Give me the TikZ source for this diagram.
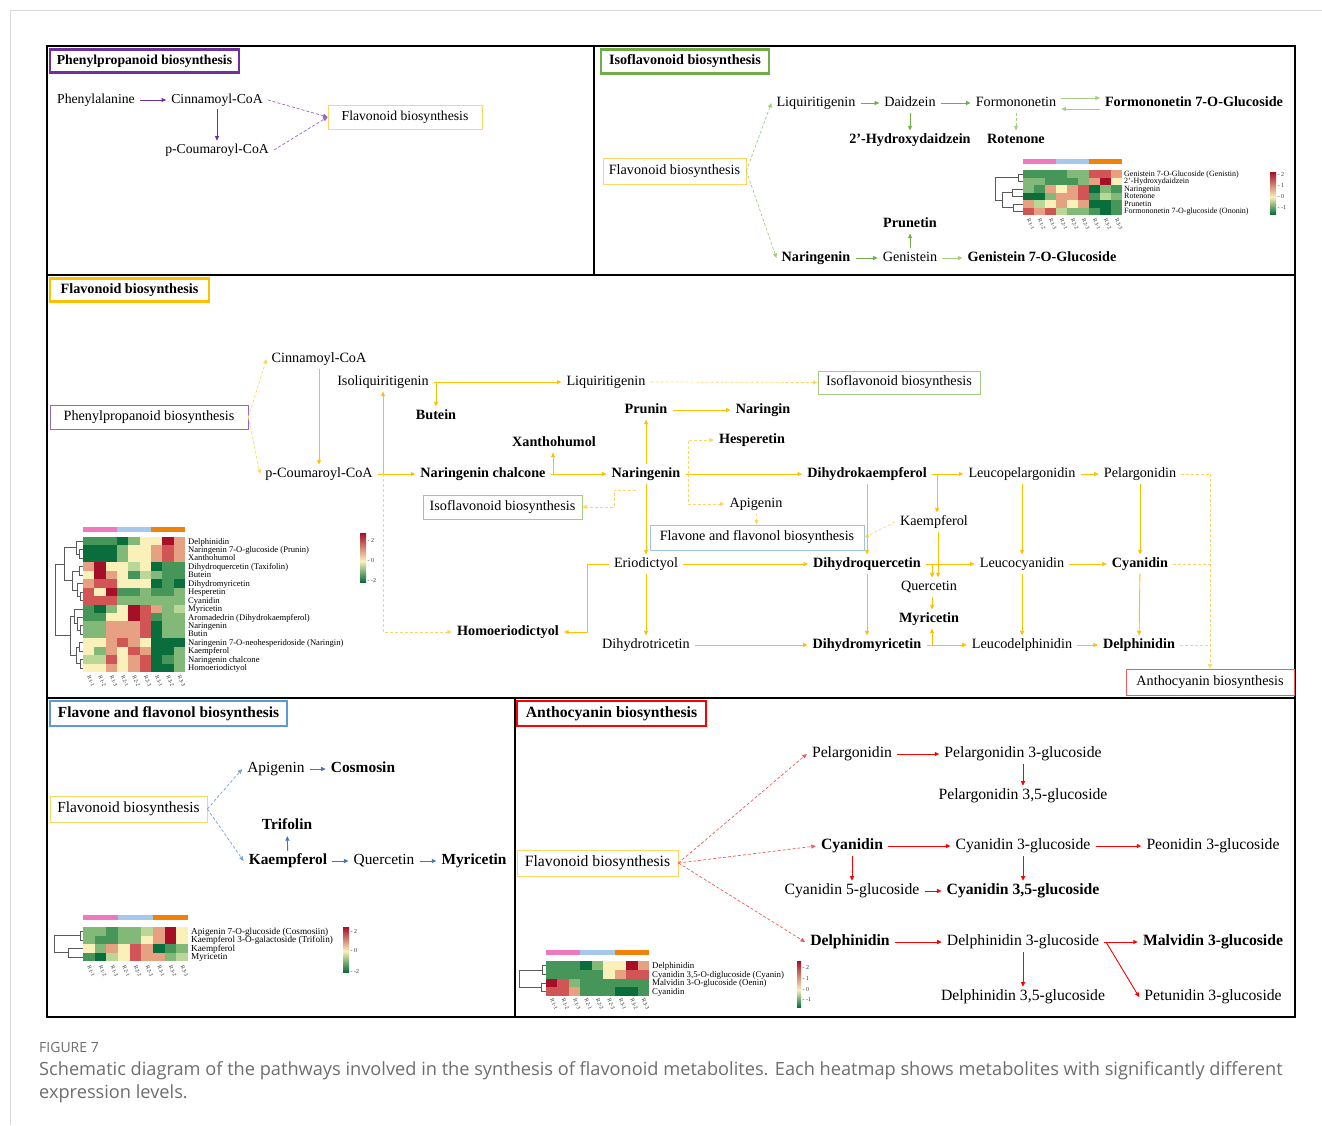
\documentclass[tikz,border=0pt]{standalone}
\usepackage{fontspec}
\setmainfont{Liberation Serif}
\newfontfamily\capfont{Open Sans}
\usetikzlibrary{arrows.meta}

\definecolor{cPur}{RGB}{112,48,160}
\definecolor{cPurL}{RGB}{150,100,200}
\definecolor{cGrn}{RGB}{112,173,71}
\definecolor{cGrnL}{RGB}{160,205,130}
\definecolor{cGld}{RGB}{255,192,0}
\definecolor{cGldL}{RGB}{255,214,100}
\definecolor{cBlu}{RGB}{68,114,196}
\definecolor{cBluL}{RGB}{120,160,220}
\definecolor{cBlt}{RGB}{91,155,213}
\definecolor{cBltL}{RGB}{157,195,230}
\definecolor{cRed}{RGB}{255,0,0}
\definecolor{cRedL}{RGB}{240,90,90}
\definecolor{capgray}{RGB}{110,110,110}
\definecolor{G3}{RGB}{10,110,60}
\definecolor{G2}{RGB}{70,150,90}
\definecolor{G1}{RGB}{130,185,120}
\definecolor{G0}{RGB}{185,215,150}
\definecolor{YY}{RGB}{250,240,185}
\definecolor{R1}{RGB}{230,160,130}
\definecolor{R2}{RGB}{210,85,85}
\definecolor{R3}{RGB}{165,15,40}
\definecolor{hPink}{RGB}{240,120,190}
\definecolor{hBlue}{RGB}{165,200,235}
\definecolor{hOrng}{RGB}{240,130,10}
\definecolor{dendro}{RGB}{90,90,90}

\newcommand\szA{\fontsize{13.7}{16}\selectfont}
\newcommand\szB{\fontsize{14.2}{17}\selectfont}
\newcommand\szD{\fontsize{15.4}{18}\selectfont}
\newcommand\szE{\fontsize{15.7}{18}\selectfont}

% heatmap cells: x0, y0, cell w, cell h, rows
\newcommand\hmap[5]{\foreach \r [count=\j from 0] in {#5} {\foreach \c [count=\i from 0] in \r {\fill[\c] ({#1+\i*#3},{#2+\j*#4}) rectangle ++({#3+0.4},{#4+0.4});}}}
% row labels: x, y0, h, font size, prefix, list
\newcommand\hmlabs[6]{\foreach \t [count=\j from 0] in {#6} {\node[anchor=base west, inner sep=0pt, font=\fontsize{#4}{#4}\selectfont] (#5r\j) at (#1,{#2+(\j+0.5)*#3+0.33*#4}) {\t};}}
% column labels: x0, w, y, font size, prefix
\newcommand\hmcols[5]{\foreach \t [count=\i from 0] in {R1-1,R1-2,R1-3,R2-1,R2-2,R2-3,R3-1,R3-2,R3-3} {\node[rotate=-66, anchor=west, inner sep=0pt, text=black!80, font=\fontsize{#4}{#4}\selectfont] (#5c\i) at ({#1+(\i+0.5)*#2},#3) {\t};}}
% group bar: x0, x1, y0, y1
\newcommand\hmbar[4]{\fill[hPink] (#1,#3) rectangle ({#1+(#2-#1)/3},#4);\fill[hBlue] ({#1+(#2-#1)/3},#3) rectangle ({#1+2*(#2-#1)/3},#4);\fill[hOrng] ({#1+2*(#2-#1)/3},#3) rectangle (#2,#4);}

\begin{document}
\begin{tikzpicture}[x=1pt,y=-1pt,
  lab/.style={inner xsep=5pt, inner ysep=3pt},
  pA/.style={lab, font=\szA, text height=9.4pt, text depth=2.9pt},
  pB/.style={lab, font=\szB, text height=9.8pt, text depth=3pt},
  pD/.style={lab, font=\szD, text height=10.6pt, text depth=3.3pt},
  pE/.style={lab, font=\szE, text height=10.8pt, text depth=3.4pt},
  bx/.style={draw=#1, line width=0.75pt, inner sep=0pt, fill=white},
  ttl/.style={draw=#1, line width=2.3pt, fill=white, inner sep=0pt},
  arw/.style={-{Triangle[length=4.5pt,width=4pt]}},
  sol/.style={draw=#1, line width=0.9pt},
  dsh/.style={draw=#1, line width=0.7pt, dash pattern=on 3pt off 2pt},
  dg/.style={draw=dendro, line width=0.5pt},
  tk/.style={font=\fontsize{6}{6}\selectfont, anchor=west, inner sep=0.5pt, text=black!80}
]
\useasboundingbox (0,0) rectangle (1322,1125);
\fill[white] (0,0) rectangle (1322,1125);
\draw[black!15, line width=0.8pt] (10,1125) -- (10,10) -- (1322,10);

% ---------- frame ----------
\draw[line width=2.4pt] (47,46) rectangle (1295,1017);
\draw[line width=1.3pt] (47,275) -- (1295,275);
\draw[line width=1.3pt] (594,46) -- (594,275);
\draw[line width=1.3pt] (47,698) -- (1295,698);
\draw[line width=1.3pt] (515,698) -- (515,1017);

% ---------- titles ----------
\node[ttl=cPur, minimum width=189pt, minimum height=23pt, font=\szA\bfseries] (t1) at (144.5,61) {Phenylpropanoid biosynthesis};
\node[ttl=cGrn, minimum width=168pt, minimum height=24pt, font=\szB\bfseries] (t2) at (685,61.5) {Isoflavonoid biosynthesis};
\node[ttl=cGld, minimum width=159pt, minimum height=23pt, font=\szB\bfseries] (t3) at (129.5,290) {Flavonoid biosynthesis};
\node[ttl=cBlt, minimum width=237pt, minimum height=25pt, font=\szD\bfseries] (t4) at (168.5,713.5) {Flavone and flavonol biosynthesis};
\node[ttl=cRed, minimum width=189pt, minimum height=25pt, font=\szE\bfseries] (t5) at (611.5,713.5) {Anthocyanin biosynthesis};

% ---------- panel 1 : phenylpropanoid ----------
\node[pA] (n1phe) at (96,100) {Phenylalanine};
\node[pA] (n1cin) at (217,100) {Cinnamoyl-CoA};
\node[pA] (n1cou) at (217,150) {p-Coumaroyl-CoA};
\node[bx=cGldL, font=\szA, minimum width=154pt, minimum height=24pt] (n1flv) at (405,117) {Flavonoid biosynthesis};
\draw[sol=cPur, arw] (n1phe) -- (n1cin);
\draw[sol=cPur, arw] (n1cin) -- (n1cou);
\draw[dsh=cPurL, arw] (n1cin.east) -- (n1flv.west);
\draw[dsh=cPurL, arw] (n1cou.east) -- (n1flv.west);

% ---------- panel 2 : isoflavonoid ----------
\node[bx=cGldL, font=\szB, minimum width=143pt, minimum height=26pt] (n2flv) at (674.5,171) {Flavonoid biosynthesis};
\node[pB] (n2liq) at (816,103) {Liquiritigenin};
\node[pB] (n2dai) at (910,103) {Daidzein};
\node[pB] (n2for) at (1016,103) {Formononetin};
\node[pB] (n2fog) at (1194,103) {\textbf{Formononetin 7-O-Glucoside}};
\node[pB] (n2hyd) at (910,140) {\textbf{2'-Hydroxydaidzein}};
\node[pB] (n2rot) at (1016,140) {\textbf{Rotenone}};
\node[pB] (n2pru) at (910,224) {\textbf{Prunetin}};
\node[pB] (n2nar) at (816,258) {\textbf{Naringenin}};
\node[pB] (n2gen) at (910,258) {Genistein};
\node[pB] (n2g7) at (1042,258) {\textbf{Genistein 7-O-Glucoside}};
\draw[dsh=cGrnL, arw] (n2flv.east) -- (n2liq.west);
\draw[dsh=cGrnL, arw] (n2flv.east) -- (n2nar.west);
\draw[sol=cGrn, arw] (n2liq) -- (n2dai);
\draw[sol=cGrn, arw] (n2dai) -- (n2for);
\draw[sol=cGrnL, arw] ([yshift=5pt]n2for.east) -- ([yshift=5pt]n2for.east -| n2fog.west);
\draw[sol=cGrnL, arw] ([yshift=-6pt]n2fog.west) -- ([yshift=-6pt]n2fog.west -| n2for.east);
\draw[sol=cGrn, arw] (n2dai) -- (n2hyd);
\draw[dsh=cGrnL, arw] (n2for) -- (n2rot);
\draw[sol=cGrn, arw] (n2nar) -- (n2gen);
\draw[sol=cGrnL, arw] (n2gen) -- (n2g7);
\draw[sol=cGrn, arw] (n2gen) -- (n2pru);
% heatmap
\hmbar{1023}{1122}{159}{164}
\hmap{1023}{170}{11}{7.5}{{G2,G2,G2,G2,G1,G1,R2,R2,R1},{G1,G1,G2,G2,G2,G1,R1,R3,YY},{G1,G2,R1,YY,R1,R2,G3,G1,G2},{G3,G3,G1,R1,R1,R2,G2,G0,G1},{R1,G0,YY,R1,YY,R1,G3,G3,G2},{R2,R1,R2,G0,G1,G1,G2,G3,G2}}
\hmlabs{1124}{170}{7.5}{8}{iso}{Genistein 7-O-Glucoside (Genistin),2'-Hydroxydaidzein,Naringenin,Rotenone,Prunetin,Formononetin 7-O-glucoside (Ononin)}
\hmcols{1023}{11}{219}{5.5}{iso}
\draw[dg] (1023,173.75) -- (1018,173.75) -- (1018,181.25) -- (1023,181.25);
\draw[dg] (1023,188.75) -- (1012,188.75) -- (1012,196.25) -- (1023,196.25);
\draw[dg] (1023,203.75) -- (1013,203.75) -- (1013,211.25) -- (1023,211.25);
\draw[dg] (1012,192.5) -- (1002,192.5) -- (1002,207.5) -- (1013,207.5);
\draw[dg] (1018,177.5) -- (995,177.5) -- (995,200) -- (1002,200);
\shade[top color=R3, bottom color=YY] (1270,172) rectangle (1276,197);
\shade[top color=YY, bottom color=G3] (1270,197) rectangle (1276,214);
\node[tk] (isok1) at (1277,175) {- 2};
\node[tk] (isok2) at (1277,186) {- 1};
\node[tk] (isok3) at (1277,197) {- 0};
\node[tk] (isok4) at (1277,208) {- -1};

% ---------- panel 3 : flavonoid ----------
\node[bx=cPurL, font=\szB, minimum width=198pt, minimum height=24pt] (n3ppb) at (149,417) {Phenylpropanoid biosynthesis};
\node[pB] (n3cin) at (319,359) {Cinnamoyl-CoA};
\node[pB] (n3cou) at (319,474) {p-Coumaroyl-CoA};
\node[pB] (n3iso) at (383,382) {Isoliquiritigenin};
\node[pB] (n3but) at (436,416) {\textbf{Butein}};
\node[pB] (n3liq) at (606,382) {Liquiritigenin};
\node[bx=cGrnL, font=\szB, minimum width=162pt, minimum height=23pt] (n3ifb) at (899,382.5) {Isoflavonoid biosynthesis};
\node[pB] (n3pru) at (646,410) {\textbf{Prunin}};
\node[pB] (n3nag) at (763,410) {\textbf{Naringin}};
\node[pB] (n3xan) at (554,443) {\textbf{Xanthohumol}};
\node[pB] (n3hes) at (752,440) {\textbf{Hesperetin}};
\node[pB] (n3chal) at (483,474) {\textbf{Naringenin chalcone}};
\node[pB] (n3nar) at (646,474) {\textbf{Naringenin}};
\node[pB] (n3dhk) at (867,474) {\textbf{Dihydrokaempferol}};
\node[pB] (n3lpe) at (1022,474) {Leucopelargonidin};
\node[pB] (n3pel) at (1140,474) {Pelargonidin};
\node[bx=cGrnL, font=\szB, minimum width=159pt, minimum height=24pt] (n3ifb2) at (502.5,507) {Isoflavonoid biosynthesis};
\node[pB] (n3api) at (756,504) {Apigenin};
\node[bx=cBltL, font=\szB, minimum width=214pt, minimum height=25pt] (n3ffb) at (757,537.5) {Flavone and flavonol biosynthesis};
\node[pB] (n3kae) at (934,522) {Kaempferol};
\node[pB] (n3eri) at (646,564) {Eriodictyol};
\node[pB] (n3dhq) at (867,564) {\textbf{Dihydroquercetin}};
\node[pB] (n3lcy) at (1022,564) {Leucocyanidin};
\node[pB] (n3cya) at (1140,564) {\textbf{Cyanidin}};
\node[pB] (n3que) at (929,587) {Quercetin};
\node[pB] (n3myr) at (929,619) {\textbf{Myricetin}};
\node[pB] (n3hom) at (508,632) {\textbf{Homoeriodictyol}};
\node[pB] (n3dht) at (646,645) {Dihydrotricetin};
\node[pB] (n3dhm) at (867,645) {\textbf{Dihydromyricetin}};
\node[pB] (n3lde) at (1022,645) {Leucodelphinidin};
\node[pB] (n3del) at (1139,645) {\textbf{Delphinidin}};
\node[bx=cRedL, font=\szB, minimum width=168pt, minimum height=26pt] (n3ant) at (1210,682) {Anthocyanin biosynthesis};

\coordinate (j1) at (383,474);
\coordinate (j2) at (436,382);
\coordinate (j3) at (553,474);
\coordinate (j4) at (688,474);
\coordinate (j5) at (937,474);
\coordinate (j6) at (1210,474);
\coordinate (j6b) at (1210,564);
\coordinate (j6c) at (1210,645);
\coordinate (j7) at (932,564);
\coordinate (j8) at (932,645);
\coordinate (j9) at (587,564);
\coordinate (j10) at (636,490);
\coordinate (j11) at (614,490);
\coordinate (j12) at (383,632);

\draw[dsh=cGldL, arw] (n3ppb.east) -- (n3cin.west);
\draw[dsh=cGldL, arw] (n3ppb.east) -- (n3cou.west);
\draw[sol=cGld, arw] (n3cin) -- (n3cou);
\draw[sol=cGld] (n3cou.east) -- (j1);
\draw[sol=cGld, arw] (j1) -- (j1 |- n3iso.south);
\draw[sol=cGld, arw] (j1) -- (n3chal.west);
\draw[dsh=cGldL, arw] (j1) -- (j12) -- (n3hom.west);
\draw[sol=cGld] (n3iso.east) -- (j2);
\draw[sol=cGld, arw] (j2) -- (n3liq.west);
\draw[sol=cGld, arw] (j2) -- (j2 |- n3but.north);
\draw[dsh=cGldL, arw] (n3liq.east) -- (n3ifb.west);
\draw[sol=cGld, arw] (n3pru) -- (n3nag);
\draw[sol=cGld] (n3chal.east) -- (j3);
\draw[sol=cGld, arw] (j3) -- (j3 |- n3xan.south);
\draw[sol=cGld, arw] (j3) -- (n3nar.west);
\draw[sol=cGld, arw] (n3nar) -- (n3pru);
\draw[sol=cGld, arw] (n3nar) -- (n3eri);
\draw[sol=cGld, arw] (n3nar.east) -- (n3dhk.west);
\draw[dsh=cGldL, arw] (j4) |- (n3hes.west);
\draw[dsh=cGldL, arw] (j4) |- (n3api.west);
\draw[dsh=cGldL, arw] (j10) -- (j11) |- (n3ifb2.east);
\draw[dsh=cGldL, arw] (n3api) -- (n3ffb);
\draw[dsh=cGldL, arw] (n3kae.west) -- (n3ffb.east);
\draw[sol=cGld, arw] (n3dhk) -- (n3dhq);
\draw[sol=cGld] (n3dhk.east) -- (j5);
\draw[sol=cGld, arw] (j5) -- (n3lpe.west);
\draw[sol=cGld, arw] (j5) -- (j5 |- n3kae.north);
\draw[sol=cGld, arw] (n3lpe) -- (n3pel);
\draw[dsh=cGldL] (n3pel.east) -- (j6);
\draw[dsh=cGldL] (n3cya.east) -- (j6b);
\draw[dsh=cGldL] (n3del.east) -- (j6c);
\draw[dsh=cGldL, arw] (j6) -- (n3ant.north);
\draw[sol=cGld, arw] (n3lpe) -- (n3lcy);
\draw[sol=cGld, arw] (n3pel) -- (n3cya);
\draw[sol=cGld, arw] (n3eri) -- (n3dhq);
\draw[sol=cGld] (n3dhq.east) -- (j7);
\draw[sol=cGld, arw] (j7) -- (n3lcy.west);
\draw[sol=cGld, arw] (j7) -- (j7 |- n3que.north);
\draw[sol=cGld, arw] ([xshift=4pt]n3kae.south) -- ([xshift=4pt]n3kae.south |- n3que.north);
\draw[sol=cGld, arw] ([xshift=3pt]n3que.south) -- ([xshift=3pt]n3myr.north);
\draw[sol=cGld] (n3dhm.east) -- (j8);
\draw[sol=cGld, arw] (j8) -- (n3lde.west);
\draw[sol=cGld, arw] (j8) -- (j8 |- n3myr.south);
\draw[sol=cGld, arw] (n3lcy) -- (n3cya);
\draw[sol=cGld, arw] (n3lcy) -- (n3lde);
\draw[sol=cGld, arw] (n3cya) -- (n3del);
\draw[sol=cGld, arw] (n3dhq) -- (n3dhm);
\draw[sol=cGld, arw] (n3eri) -- (n3dht);
\draw[sol=cGld, arw] (n3dht) -- (n3dhm);
\draw[sol=cGld, arw] (n3lde) -- (n3del);
\draw[sol=cGld, arw] (n3eri.west) -- (j9) |- (n3hom.east);

% heatmap
\hmbar{83}{185}{527}{531.5}
\hmap{83}{537}{11.33}{8.44}{{G2,G2,G2,G3,G1,YY,YY,R3,R1},{G3,G3,G3,G1,YY,YY,R1,R2,R1},{G3,G3,G3,G1,YY,YY,R1,R2,R1},{R1,R3,YY,YY,G0,YY,G3,G2,G2},{YY,R3,R1,YY,G2,G0,G1,G2,G2},{R1,R2,R2,YY,YY,YY,G3,G2,G3},{R2,YY,R3,G2,G2,G1,G2,G2,G1},{R2,R2,R2,G1,G1,G1,G1,G1,G1},{G2,G3,G1,YY,R3,R2,R1,G1,G0},{G2,G2,YY,YY,R3,R2,G2,G1,G1},{G1,G1,R1,R1,R1,R2,G3,G1,G1},{G1,G1,R1,R1,R1,R2,G3,G1,G1},{YY,YY,R1,R2,R1,YY,G3,G3,G3},{YY,G1,R1,YY,R2,R1,G3,G3,G1},{G0,G0,R2,YY,R1,R2,G3,G2,G1},{YY,YY,R1,YY,R1,R2,G3,G3,G1}}
\hmlabs{188}{537}{8.44}{8.6}{flv}{Delphinidin,Naringenin 7-O-glucoside (Prunin),Xanthohumol,Dihydroquercetin (Taxifolin),Butein,Dihydromyricetin,Hesperetin,Cyanidin,Myricetin,Aromadedrin (Dihydrokaempferol),Naringenin,Butin,Naringenin 7-O-neohesperidoside (Naringin),Kaempferol,Naringenin chalcone,Homoeriodictyol}
\hmcols{83}{11.33}{676}{5.5}{flv}
\draw[dg] (83,549.7) -- (79,549.7) -- (79,558.1) -- (83,558.1);
\draw[dg] (83,541.2) -- (76,541.2) -- (76,553.9) -- (79,553.9);
\draw[dg] (83,566.5) -- (79,566.5) -- (79,575.0) -- (83,575.0);
\draw[dg] (83,591.9) -- (80,591.9) -- (80,600.3) -- (83,600.3);
\draw[dg] (83,583.4) -- (77,583.4) -- (77,596.1) -- (80,596.1);
\draw[dg] (79,570.8) -- (72,570.8) -- (72,589.8) -- (77,589.8);
\draw[dg] (76,547.6) -- (64,547.6) -- (64,580.3) -- (72,580.3);
\draw[dg] (83,625.6) -- (80,625.6) -- (80,634.1) -- (83,634.1);
\draw[dg] (83,617.2) -- (77,617.2) -- (77,629.9) -- (80,629.9);
\draw[dg] (83,608.8) -- (74,608.8) -- (74,623.6) -- (77,623.6);
\draw[dg] (83,642.5) -- (79,642.5) -- (79,651.0) -- (83,651.0);
\draw[dg] (83,659.4) -- (80,659.4) -- (80,667.8) -- (83,667.8);
\draw[dg] (79,646.8) -- (76,646.8) -- (76,663.6) -- (80,663.6);
\draw[dg] (74,616.2) -- (70,616.2) -- (70,655.2) -- (76,655.2);
\draw[dg] (64,564.0) -- (55,564.0) -- (55,635.7) -- (70,635.7);
\shade[top color=R3, bottom color=YY] (360,533) rectangle (366,561);
\shade[top color=YY, bottom color=G3] (360,561) rectangle (366,582);
\node[tk] (flvk1) at (367,541) {- 2};
\node[tk] (flvk2) at (367,561) {- 0};
\node[tk] (flvk3) at (367,581) {- -2};

% ---------- panel 4 : flavone and flavonol ----------
\node[bx=cGldL, font=\szD, minimum width=157pt, minimum height=26pt] (n4flv) at (128.5,809) {Flavonoid biosynthesis};
\node[pD] (n4api) at (276,769) {Apigenin};
\node[pD] (n4cos) at (363,769) {\textbf{Cosmosin}};
\node[pD] (n4tri) at (287,826) {\textbf{Trifolin}};
\node[pD] (n4kae) at (288,861) {\textbf{Kaempferol}};
\node[pD] (n4que) at (384,861) {Quercetin};
\node[pD] (n4myr) at (474,861) {\textbf{Myricetin}};
\draw[dsh=cBluL, arw] (n4flv.east) -- (n4api.west);
\draw[dsh=cBluL, arw] (n4flv.east) -- (n4kae.west);
\draw[sol=cBlu, arw] (n4api) -- (n4cos);
\draw[sol=cBlu, arw] (n4kae) -- (n4tri);
\draw[sol=cBlu, arw] (n4kae) -- (n4que);
\draw[sol=cBlu, arw] (n4que) -- (n4myr);
% heatmap
\hmbar{83}{188}{915}{920}
\hmap{83}{927}{11.67}{8.5}{{G1,G1,G2,G1,G1,G0,R1,R3,YY},{G1,G2,G2,G1,G1,YY,R1,R3,YY},{YY,G1,R1,YY,R2,R1,G3,G2,G1},{G2,G3,G0,YY,R2,R1,R1,G1,G0}}
\hmlabs{191}{927}{8.5}{9.2}{fln}{Apigenin 7-O-glucoside (Cosmosiin),Kaempferol 3-O-galactoside (Trifolin),Kaempferol,Myricetin}
\hmcols{83}{11.67}{966}{5.5}{fln}
\draw[dg] (83,931.25) -- (80,931.25) -- (80,939.75) -- (83,939.75);
\draw[dg] (83,948.25) -- (68,948.25) -- (68,956.75) -- (83,956.75);
\draw[dg] (80,935.5) -- (54,935.5) -- (54,952.5) -- (68,952.5);
\shade[top color=R3, bottom color=YY] (343,927) rectangle (349,951);
\shade[top color=YY, bottom color=G3] (343,951) rectangle (349,972);
\node[tk] (flnk1) at (350,931) {- 2};
\node[tk] (flnk2) at (350,951) {- 0};
\node[tk] (flnk3) at (350,971) {- -2};

% ---------- panel 5 : anthocyanin ----------
\node[bx=cGldL, font=\szE, minimum width=161pt, minimum height=26pt] (n5flv) at (597.5,863) {Flavonoid biosynthesis};
\node[pE] (n5pel) at (852,754) {Pelargonidin};
\node[pE] (n5p3g) at (1023,754) {Pelargonidin 3-glucoside};
\node[pE] (n5p35) at (1023,796) {Pelargonidin 3,5-glucoside};
\node[pE] (n5cya) at (852,846) {\textbf{Cyanidin}};
\node[pE] (n5c3g) at (1023,846) {Cyanidin 3-glucoside};
\node[pE] (n5peo) at (1213,846) {Peonidin 3-glucoside};
\node[pE] (n5c5g) at (852,891) {Cyanidin 5-glucoside};
\node[pE] (n5c35) at (1023,891) {\textbf{Cyanidin 3,5-glucoside}};
\node[pE] (n5del) at (850,942) {\textbf{Delphinidin}};
\node[pE] (n5d3g) at (1023,942) {Delphinidin 3-glucoside};
\node[pE] (n5d35) at (1023,997) {Delphinidin 3,5-glucoside};
\node[pE] (n5mal) at (1213,942) {\textbf{Malvidin 3-glucoside}};
\node[pE] (n5pet) at (1213,997) {Petunidin 3-glucoside};
\coordinate (j13) at (1106,942);
\draw[dsh=cRedL, arw] (n5flv.east) -- (n5pel.west);
\draw[dsh=cRedL, arw] (n5flv.east) -- (n5cya.west);
\draw[dsh=cRedL, arw] (n5flv.east) -- (n5del.west);
\draw[sol=cRed, arw] (n5pel) -- (n5p3g);
\draw[sol=cRed, arw] (n5p3g) -- (n5p35);
\draw[sol=cRed, arw] (n5cya) -- (n5c3g);
\draw[sol=cRed, arw] (n5c3g) -- (n5peo);
\draw[sol=cRed, arw] (n5cya) -- (n5c5g);
\draw[sol=cRed, arw] (n5c3g) -- (n5c35);
\draw[sol=cRed, arw] (n5c5g) -- (n5c35);
\draw[sol=cRed, arw] (n5del) -- (n5d3g);
\draw[sol=cRed, arw] (n5d3g) -- (n5d35);
\draw[sol=cRed] (n5d3g.east) -- (j13);
\draw[sol=cRed, arw] (j13) -- (n5mal.west);
\draw[sol=cRed, arw] (j13) -- (n5pet.west);
% heatmap
\hmbar{546}{649}{950}{955}
\hmap{546}{961}{11.44}{8.75}{{G2,G2,G2,G3,G1,YY,YY,R3,R1},{G2,G2,G2,G2,G2,YY,R1,R2,R2},{R3,R2,G1,G2,G2,G2,G2,G2,G2},{R2,R2,R1,G2,G2,G2,G3,G3,G2}}
\hmlabs{652}{961}{8.75}{8.8}{ant}{Delphinidin,{Cyanidin 3,5-O-diglucoside (Cyanin)},Malvidin 3-O-glucoside (Oenin),Cyanidin}
\hmcols{546}{11.44}{999}{5.5}{ant}
\draw[dg] (546,965.4) -- (542,965.4) -- (542,974.1) -- (546,974.1);
\draw[dg] (546,982.9) -- (541,982.9) -- (541,991.6) -- (546,991.6);
\draw[dg] (542,969.75) -- (519,969.75) -- (519,987.25) -- (541,987.25);
\shade[top color=R3, bottom color=YY] (797,961) rectangle (801,990);
\shade[top color=YY, bottom color=G3] (797,990) rectangle (801,1007);
\node[tk] (antk1) at (802,967) {- 2};
\node[tk] (antk2) at (802,979) {- 1};
\node[tk] (antk3) at (802,990) {- 0};
\node[tk] (antk4) at (802,1000) {- -1};

% ---------- caption ----------
\node[anchor=west, inner sep=0pt, font=\capfont\fontsize{14}{16}\selectfont, text=capgray] (cap0) at (39,1047) {FIGURE 7};
\node[anchor=west, inner sep=0pt, font=\capfont\fontsize{18.2}{21}\selectfont, text=capgray] (cap1) at (39,1071) {Schematic diagram of the pathways involved in the synthesis of flavonoid metabolites. Each heatmap shows metabolites with significantly different};
\node[anchor=west, inner sep=0pt, font=\capfont\fontsize{18.2}{21}\selectfont, text=capgray] (cap2) at (39,1094) {expression levels.};
\end{tikzpicture}
\end{document}
